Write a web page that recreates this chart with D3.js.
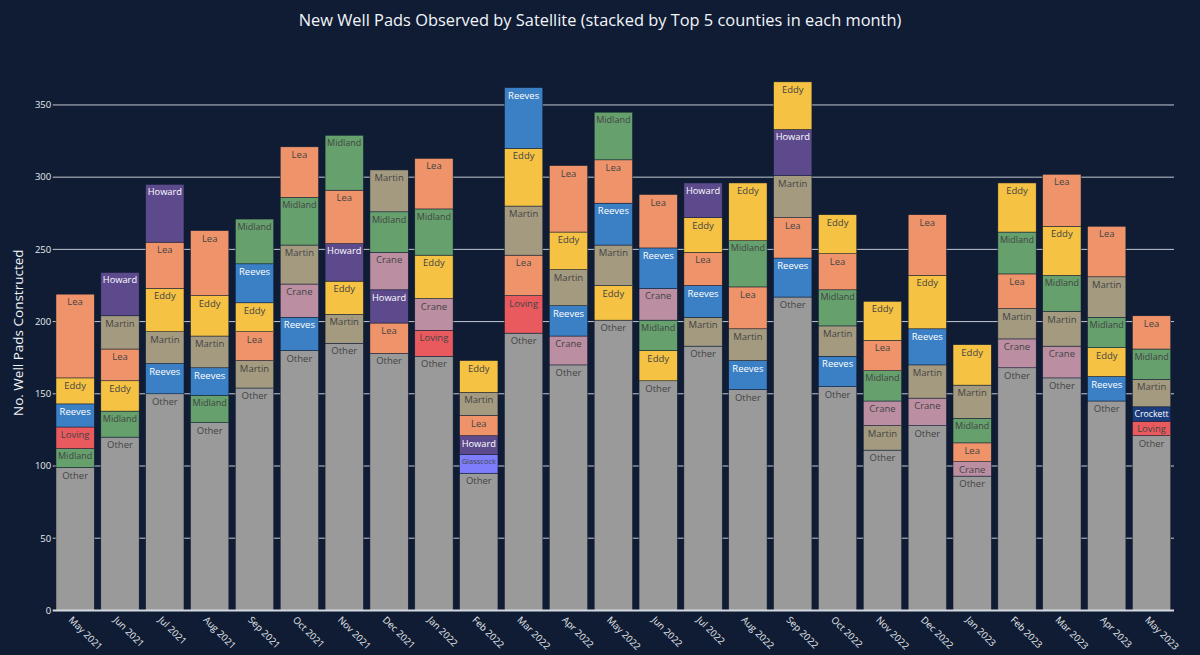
<!DOCTYPE html>
<html>
<head>
<meta charset="utf-8">
<script src="https://cdn.jsdelivr.net/npm/d3@7"></script>
<style>
  html, body { margin: 0; padding: 0; background: #0f1c33; }
  svg { display: block; font-family: "Open Sans", "DejaVu Sans", sans-serif; }
</style>
</head>
<body>
<svg id="chart"></svg>
<script>
// Months on the x axis
const months = ["May 2021", "Jun 2021", "Jul 2021", "Aug 2021", "Sep 2021", "Oct 2021",
  "Nov 2021", "Dec 2021", "Jan 2022", "Feb 2022", "Mar 2022", "Apr 2022", "May 2022",
  "Jun 2022", "Jul 2022", "Aug 2022", "Sep 2022", "Oct 2022", "Nov 2022", "Dec 2022",
  "Jan 2023", "Feb 2023", "Mar 2023", "Apr 2023", "May 2023"];

// Pads outside the top 5 counties (bottom of each stack)
const otherPads = [99, 120, 150, 130, 154, 180, 185, 178, 176, 95, 192, 170, 201,
  159, 183, 153, 217, 155, 111, 128, 93, 168, 161, 145, 121];

// Top 5 counties for each month, bottom to top
const topCounties = [
  ["Midland", "Loving", "Reeves", "Eddy", "Lea"],
  ["Midland", "Eddy", "Lea", "Martin", "Howard"],
  ["Reeves", "Martin", "Eddy", "Lea", "Howard"],
  ["Midland", "Reeves", "Martin", "Eddy", "Lea"],
  ["Martin", "Lea", "Eddy", "Reeves", "Midland"],
  ["Reeves", "Crane", "Martin", "Midland", "Lea"],
  ["Martin", "Eddy", "Howard", "Lea", "Midland"],
  ["Lea", "Howard", "Crane", "Midland", "Martin"],
  ["Loving", "Crane", "Eddy", "Midland", "Lea"],
  ["Glasscock", "Howard", "Lea", "Martin", "Eddy"],
  ["Loving", "Lea", "Martin", "Eddy", "Reeves"],
  ["Crane", "Reeves", "Martin", "Eddy", "Lea"],
  ["Eddy", "Martin", "Reeves", "Lea", "Midland"],
  ["Eddy", "Midland", "Crane", "Reeves", "Lea"],
  ["Martin", "Reeves", "Lea", "Eddy", "Howard"],
  ["Reeves", "Martin", "Lea", "Midland", "Eddy"],
  ["Reeves", "Lea", "Martin", "Howard", "Eddy"],
  ["Reeves", "Martin", "Midland", "Lea", "Eddy"],
  ["Martin", "Crane", "Midland", "Lea", "Eddy"],
  ["Crane", "Martin", "Reeves", "Eddy", "Lea"],
  ["Crane", "Lea", "Midland", "Martin", "Eddy"],
  ["Crane", "Martin", "Lea", "Midland", "Eddy"],
  ["Crane", "Martin", "Midland", "Eddy", "Lea"],
  ["Reeves", "Eddy", "Midland", "Martin", "Lea"],
  ["Loving", "Crockett", "Martin", "Midland", "Lea"]
];

// Pads in those counties, same order
const topPads = [
  [13, 15, 16, 18, 58],
  [18, 21, 22, 23, 30],
  [21, 22, 30, 32, 40],
  [19, 19, 22, 28, 45],
  [19, 20, 20, 27, 31],
  [23, 23, 27, 33, 35],
  [20, 23, 26, 37, 38],
  [21, 23, 26, 28, 29],
  [18, 22, 30, 32, 35],
  [13, 13, 14, 16, 22],
  [26, 28, 34, 40, 42],
  [20, 21, 25, 26, 46],
  [24, 28, 29, 30, 33],
  [21, 21, 22, 28, 37],
  [20, 22, 23, 24, 24],
  [20, 22, 29, 32, 40],
  [27, 28, 29, 32, 33],
  [21, 21, 25, 25, 27],
  [17, 17, 21, 21, 27],
  [19, 23, 25, 37, 42],
  [10, 13, 17, 23, 28],
  [20, 21, 24, 29, 34],
  [22, 24, 25, 34, 36],
  [17, 20, 21, 28, 35],
  [10, 10, 19, 21, 23]
];

const yTicks = [0, 50, 100, 150, 200, 250, 300, 350];

// Colours per county
const countyColors = {
  Other: "#9a9a9a", Lea: "#ef946a", Eddy: "#f5c243", Martin: "#a39a7f",
  Midland: "#65a06d", Reeves: "#3b7fc4", Howard: "#5c4a8d", Crane: "#bb8ea2",
  Loving: "#e95a5f", Glasscock: "#7e7efc", Crockett: "#1c3d7d"
};

const W = 1200, H = 655;
const margin = { top: 55, right: 26, bottom: 44.6, left: 52.7 };

const svg = d3.select("#chart")
  .attr("width", W)
  .attr("height", H);

svg.append("rect")
  .attr("width", W)
  .attr("height", H)
  .attr("fill", "#0f1c33");

const xScale = d3.scaleBand()
  .domain(months)
  .range([margin.left, W - margin.right])
  .paddingInner(0.146)
  .paddingOuter(0.073);

const yScale = d3.scaleLinear()
  .domain([0, 384.6])
  .range([H - margin.bottom, margin.top]);

// Build the stacked segments month by month
const segments = [];
months.forEach((m, i) => {
  const names = ["Other"].concat(topCounties[i]);
  const vals = [otherPads[i]].concat(topPads[i]);
  const cum = d3.cumsum(vals);
  names.forEach((name, j) => {
    segments.push({ month: m, county: name, value: vals[j], y0: cum[j] - vals[j], y1: cum[j] });
  });
});

// Grid lines
svg.append("g")
  .selectAll("line")
  .data(yTicks.filter(d => d > 0))
  .enter()
  .append("line")
  .attr("x1", margin.left)
  .attr("x2", W - margin.right)
  .attr("y1", d => yScale(d))
  .attr("y2", d => yScale(d))
  .attr("stroke", "#c3c8d1")
  .attr("stroke-width", 1);

// Bars
svg.append("g")
  .selectAll("rect")
  .data(segments)
  .enter()
  .append("rect")
  .attr("x", d => xScale(d.month))
  .attr("width", xScale.bandwidth())
  .attr("y", d => yScale(d.y1))
  .attr("height", d => yScale(d.y0) - yScale(d.y1))
  .attr("fill", d => countyColors[d.county])
  .attr("stroke", "#0f1c33")
  .attr("stroke-width", 0.5);

// Zero line
svg.append("line")
  .attr("x1", margin.left)
  .attr("x2", W - margin.right)
  .attr("y1", yScale(0))
  .attr("y2", yScale(0))
  .attr("stroke", "#d5d9df")
  .attr("stroke-width", 2);

// Labels inside each segment, near the top, shrunk to fit the bar
function textColor(c) {
  const rgb = d3.rgb(c);
  const brightness = (rgb.r * 299 + rgb.g * 587 + rgb.b * 114) / 1000;
  return brightness >= 128 ? "#444" : "#fff";
}

const labelSize = 9.5;
svg.append("g")
  .selectAll("text")
  .data(segments)
  .enter()
  .append("text")
  .attr("x", d => xScale(d.month) + xScale.bandwidth() / 2)
  .attr("text-anchor", "middle")
  .attr("font-size", labelSize)
  .attr("fill", d => textColor(countyColors[d.county]))
  .text(d => d.county)
  .each(function(d) {
    const maxW = xScale.bandwidth() - 4;
    const w = this.getComputedTextLength();
    const size = w > maxW ? labelSize * maxW / w : labelSize;
    d3.select(this)
      .attr("font-size", size)
      .attr("y", yScale(d.y1) + 3 + size * 0.85);
  });

// Y axis tick labels
svg.append("g")
  .selectAll("text")
  .data(yTicks)
  .enter()
  .append("text")
  .attr("x", margin.left - 1.5)
  .attr("y", d => yScale(d))
  .attr("dy", "0.35em")
  .attr("text-anchor", "end")
  .attr("font-size", 9.5)
  .attr("fill", "#e8ebf0")
  .text(d => d);

// X axis tick labels, rotated 45 degrees
svg.append("g")
  .selectAll("text")
  .data(months)
  .enter()
  .append("text")
  .attr("transform", d => `translate(${xScale(d) + xScale.bandwidth() / 2 - 2},${yScale(0) + 5}) rotate(45)`)
  .attr("dy", "0.75em")
  .attr("text-anchor", "start")
  .attr("font-size", 9.5)
  .attr("fill", "#e8ebf0")
  .text(d => d);

// Y axis title
svg.append("text")
  .attr("transform", `translate(18,${(yScale(0) + margin.top) / 2}) rotate(-90)`)
  .attr("text-anchor", "middle")
  .attr("dy", "0.35em")
  .attr("font-size", 13.5)
  .attr("fill", "#f2f5fa")
  .text("No. Well Pads Constructed");

// Title
svg.append("text")
  .attr("x", W / 2)
  .attr("y", 26)
  .attr("text-anchor", "middle")
  .attr("font-size", 16.4)
  .attr("fill", "#f2f5fa")
  .text("New Well Pads Observed by Satellite (stacked by Top 5 counties in each month)");
</script>
</body>
</html>
